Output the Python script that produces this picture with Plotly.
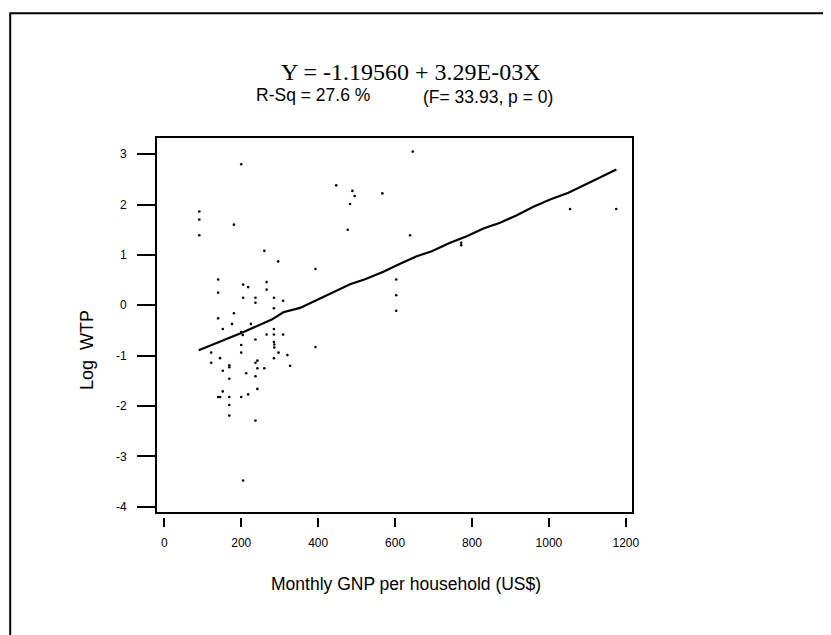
import plotly.graph_objects as go

# ---- data ----
gnp = [200, 91, 91, 91, 181, 447, 646, 489, 495, 483, 567, 477, 639, 772, 772,
       1055, 1175, 603, 603, 603, 260, 296, 393, 140, 140, 205, 218, 266, 266,
       205, 237, 237, 285, 309, 285, 140, 181, 176, 225, 152, 285, 200, 204,
       266, 285, 309, 237, 200, 285, 286, 286, 297, 393, 122, 200, 320, 122,
       145, 285, 169, 169, 242, 237, 242, 260, 327, 152, 213, 169, 237, 242,
       152, 140, 145, 169, 200, 218, 169, 169, 237, 205]
log_wtp = [2.80, 1.86, 1.70, 1.39, 1.60, 2.38, 3.05, 2.27, 2.17, 2.01, 2.22, 1.50,
           1.39, 1.24, 1.19, 1.91, 1.91, 0.51, 0.20, -0.11, 1.08, 0.87, 0.72,
           0.51, 0.25, 0.41, 0.36, 0.46, 0.31, 0.15, 0.15, 0.05, 0.15, 0.09,
           -0.06, -0.26, -0.16, -0.37, -0.37, -0.47, -0.47, -0.53, -0.59, -0.58,
           -0.58, -0.58, -0.68, -0.79, -0.73, -0.78, -0.84, -0.94, -0.83, -0.94,
           -0.94, -0.99, -1.14, -1.05, -1.05, -1.19, -1.23, -1.10, -1.14, -1.25,
           -1.25, -1.20, -1.30, -1.35, -1.46, -1.41, -1.66, -1.71, -1.82, -1.82,
           -1.82, -1.82, -1.77, -1.98, -2.19, -2.29, -3.48]

fit_x = [89.5, 196.9, 279.3, 309.5, 352.9, 457, 483, 522, 569.6, 613, 656.4,
         695.4, 743, 786.5, 829.6, 873, 916.5, 959.7, 1003, 1050.7, 1098.6, 1175.5]
fit_y = [-0.894, -0.562, -0.284, -0.139, -0.052, 0.312, 0.417, 0.516, 0.663,
         0.822, 0.973, 1.073, 1.24, 1.37, 1.524, 1.637, 1.788, 1.955, 2.10,
         2.233, 2.41, 2.696]

x_ticks = [0, 200, 400, 600, 800, 1000, 1200]
y_ticks = [-4, -3, -2, -1, 0, 1, 2, 3]

title_eq = "Y = -1.19560 + 3.29E-03X"
rsq_text = "R-Sq = 27.6 %"
f_text = "(F= 33.93, p = 0)"
x_title = "Monthly GNP per household (US$)"
y_title = "Log  WTP"

# ---- layout geometry (pixels) ----
W, H = 831, 635
OFF = 8                      # page body margin added by the browser
L, T = 157 - OFF, 138 - OFF  # plot area top-left in figure pixels
PW = 475
PBOT = 520 - OFF
PH = PBOT - T
R = W - L - PW
B = H - PBOT


def px(xp):
    """reference-image x pixel -> paper fraction"""
    return (xp - OFF - L) / PW


def py(yp):
    """reference-image y pixel -> paper fraction"""
    return (PBOT - (yp - OFF)) / PH


frame_bottom = py(512.3)
tick_top = py(516.7)

sans = "Liberation Sans, Arial, sans-serif"
serif = "Liberation Serif, Times New Roman, serif"

fig = go.Figure()
fig.add_trace(go.Scatter(x=gnp, y=log_wtp, mode="markers",
                         marker=dict(color="black", size=2.6),
                         hoverinfo="skip", showlegend=False))
fig.add_trace(go.Scatter(x=fit_x, y=fit_y, mode="lines", xaxis="x2", yaxis="y",
                         line=dict(color="black", width=2.2),
                         hoverinfo="skip", showlegend=False))

xr = [-19, 1216]
yr = [-4.11, 3.32]

fig.update_layout(
    width=W, height=H,
    margin=dict(l=L, r=R, t=T, b=B),
    paper_bgcolor="white", plot_bgcolor="white",
    font=dict(family=sans, size=12, color="black"),
    xaxis=dict(range=xr, showline=True, mirror=True, linecolor="black", linewidth=2,
               ticks="", showticklabels=False, showgrid=False, zeroline=False,
               anchor="y"),
    xaxis2=dict(range=xr, overlaying="x", anchor="free", position=tick_top,
                side="bottom", showline=False, showgrid=False, zeroline=False,
                tickvals=x_ticks, ticktext=[str(v) for v in x_ticks],
                ticks="outside", ticklen=9, tickwidth=2, tickcolor="black",
                tickfont=dict(family=sans, size=12, color="black"),
                ticklabelstandoff=6),
    yaxis=dict(range=yr, domain=[frame_bottom, 1], showline=True, mirror=True,
               linecolor="black", linewidth=2, showgrid=False, zeroline=False,
               tickvals=y_ticks, ticktext=[str(v) for v in y_ticks],
               ticks="outside", ticklen=18, tickwidth=2, tickcolor="black",
               tickfont=dict(family=sans, size=12, color="black"),
               ticklabelstandoff=8),
    shapes=[dict(type="rect", xref="paper", yref="paper",
                 x0=px(10.2), x1=px(860), y0=py(660), y1=py(13.3),
                 line=dict(color="black", width=2), fillcolor="rgba(0,0,0,0)",
                 layer="above")],
    annotations=[
        dict(text=title_eq, xref="paper", yref="paper", x=px(411), y=py(71.5),
             xanchor="center", yanchor="middle", showarrow=False,
             font=dict(family=serif, size=24, color="black")),
        dict(text=rsq_text, xref="paper", yref="paper", x=px(254), y=py(95.5),
             xanchor="left", yanchor="middle", showarrow=False,
             font=dict(family=sans, size=17.5, color="black")),
        dict(text=f_text, xref="paper", yref="paper", x=px(421), y=py(97),
             xanchor="left", yanchor="middle", showarrow=False,
             font=dict(family=sans, size=17.5, color="black")),
        dict(text=x_title, xref="paper", yref="paper", x=px(406.3), y=py(583.5),
             xanchor="center", yanchor="middle", showarrow=False,
             font=dict(family=sans, size=17.5, color="black")),
        dict(text=y_title, xref="paper", yref="paper", x=px(87), y=py(350),
             xanchor="center", yanchor="middle", showarrow=False, textangle=-90,
             font=dict(family=sans, size=18, color="black")),
    ],
)

fig.write_html("out.html")
